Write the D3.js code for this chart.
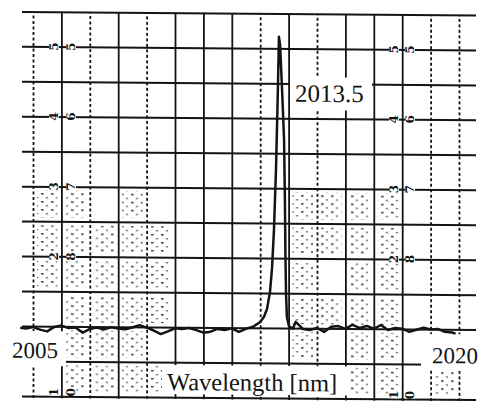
<!DOCTYPE html>
<html><head><meta charset="utf-8">
<script src="https://cdn.jsdelivr.net/npm/d3@7"></script>
<style>html,body{margin:0;padding:0;background:#fff;overflow:hidden}</style>
</head><body>
<svg id="c" width="482" height="401"></svg>
<script>
// ---------- data ----------
const xDomain = [2005, 2020];          // nm
const yDomain = [0, 11];               // grid divisions (arb. units)
const gridNm = d3.range(2005, 2021);   // one vertical line per nm
const dashedNm = [2005, 2007, 2009, 2013, 2015, 2019, 2020];
const gridDiv = d3.range(0, 12);

const baseLeftWl  = [2004.55,2004.75,2005.0,2005.25,2005.5,2005.75,2006.0,2006.25,2006.5,2006.75,2007.0,2007.25,2007.5,2007.75,2008.0,2008.25,2008.5,2008.75,2009.0,2009.25,2009.5,2009.75,2010.0,2010.25,2010.5,2010.75,2011.0,2011.25,2011.5,2011.75,2012.0,2012.25,2012.5,2012.75];
const baseLeftVal = [1.95,1.93,1.97,1.90,1.85,1.98,2.02,1.95,1.97,1.82,1.93,1.97,1.92,1.98,1.95,1.93,1.98,2.05,1.98,1.90,1.80,1.88,1.97,1.95,1.98,1.92,1.85,1.88,1.96,1.93,1.98,1.88,1.97,2.03];
const peakWl  = [2013.0,2013.13,2013.24,2013.345,2013.415,2013.486,2013.556,2013.59,2013.63,2013.66,2013.70,2013.77,2013.84,2013.87,2013.89,2013.91,2013.94,2014.01,2014.15];
const peakVal = [2.17,2.31,2.54,3.03,3.69,4.83,6.54,7.68,9.11,10.33,10.11,8.82,7.40,5.69,3.97,2.98,2.32,2.06,1.98];
const baseRightWl  = [2014.25,2014.5,2014.75,2015.0,2015.25,2015.5,2015.75,2016.0,2016.25,2016.5,2016.75,2017.0,2017.25,2017.5,2017.75,2018.0,2018.25,2018.5,2018.75,2019.0,2019.25,2019.5,2019.75,2019.88];
const baseRightVal = [2.18,1.98,1.95,2.01,1.90,2.05,2.07,1.99,2.11,2.02,2.08,2.00,2.11,1.97,2.03,2.01,1.92,1.98,2.04,1.99,2.01,1.93,1.91,1.88];

const peakLabel = "2013.5";
const xStartLabel = "2005";
const xEndLabel = "2020";
const xTitle = "Wavelength [nm]";

// chart-paper scale digits printed on every other line
const paperLines = [10, 8, 6, 4, 0];
const paperFirst = ["5", "4", "3", "2", "1"];
const paperSecond = ["5", "6", "7", "8", "0"];

// cells of the paper showing a dotted print texture [column, row]
const dottedCells = [
  [0,5],[1,5],[3,5],[9,5],[10,5],[11,5],[12,5],
  [0,4],[1,4],[2,4],[3,4],[4,4],[9,4],[10,4],[11,4],[12,4],
  [0,3],[1,3],[2,3],[3,3],[4,3],[9,3],[11,3],[12,3],
  [1,2],[2,2],[3,2],[4,2],[9,2],[10,2],[11,2],[12,2],
  [1,1],[2,1],[3,1],[9,1],[11,1],[12,1],
  [1,0],[2,0],[3,0],[4,0],[11,0],[12,0],[14,0]
];

// ---------- drawing ----------
const svg = d3.select("#c");
const ink = "#141414";
const x = d3.scaleLinear().domain(xDomain).range([33, 459]);
const y = d3.scaleLinear().domain(yDomain).range([396, 11.5]);

const defs = svg.append("defs");
const pat = defs.append("pattern").attr("id", "dots")
  .attr("patternUnits", "userSpaceOnUse").attr("width", 10).attr("height", 8);
pat.append("rect").attr("x", 1).attr("y", 1).attr("width", 2.6).attr("height", 1.6).attr("fill", "#111");
pat.append("rect").attr("x", 6).attr("y", 5).attr("width", 2).attr("height", 1.4).attr("fill", "#333");

// scanned page is slightly tilted
const g = svg.append("g").attr("transform", "matrix(1,0.008,0,1,0,-0.3)");

// dotted texture
g.append("g").selectAll("rect").data(dottedCells).join("rect")
  .attr("x", d => x(xDomain[0] + d[0]) + 4)
  .attr("y", d => y(d[1] + 1) + 4)
  .attr("width", d => x(xDomain[0] + d[0] + 1) - x(xDomain[0] + d[0]) - 8)
  .attr("height", d => y(d[1]) - y(d[1] + 1) - 8)
  .attr("fill", "url(#dots)").attr("opacity", 0.8);

// vertical grid via axis
const vAxis = g.append("g").attr("transform", "translate(0,398)")
  .call(d3.axisBottom(x).tickValues(gridNm).tickSize(-(398 - 11.5)).tickFormat(""));
vAxis.select(".domain").remove();
vAxis.selectAll(".tick line")
  .attr("stroke", ink).attr("stroke-width", 1.8)
  .attr("stroke-dasharray", d => dashedNm.includes(d) ? "3,2.5" : null);

// horizontal grid via axis
const hAxis = g.append("g").attr("transform", "translate(22,0)")
  .call(d3.axisLeft(y).tickValues(gridDiv).tickSize(-(476 - 22)).tickFormat(""));
hAxis.select(".domain").remove();
hAxis.selectAll(".tick line").attr("stroke", ink).attr("stroke-width", 2);

// white label boxes on the paper
const boxes = [
  [4, 331, 62, 35],
  [421, 331, 61, 36],
  [162, 364, 186, 29],
  [290, 75, 82, 33]
];
g.append("g").selectAll("rect").data(boxes).join("rect")
  .attr("x", d => d[0]).attr("y", d => d[1]).attr("width", d => d[2]).attr("height", d => d[3])
  .attr("fill", "#fff");

// paper scale digits
const pl = g.append("g").attr("font-family", "'DejaVu Serif', serif")
  .attr("font-weight", "bold").attr("font-size", 12).attr("fill", ink);
paperLines.forEach((ln, i) => {
  const py = ln === 0 ? y(ln) - 4 : y(ln);
  [[54, paperFirst[i]], [71, paperSecond[i]], [394, paperFirst[i]], [410, paperSecond[i]]].forEach(([px, t]) => {
    pl.append("rect").attr("x", px - 5).attr("y", py - 3.5).attr("width", 10).attr("height", 7).attr("fill", "#fff");
    pl.append("text").attr("transform", `translate(${px},${py}) rotate(-90)`)
      .attr("text-anchor", "middle").attr("dy", "0.36em")
      .text(t);
  });
});

// spectrum trace
const wl = baseLeftWl.concat(peakWl, baseRightWl);
const val = baseLeftVal.concat(peakVal, baseRightVal);
const pts = wl.map((w, i) => [w, val[i]]);
g.append("path").datum(pts)
  .attr("fill", "none").attr("stroke", ink).attr("stroke-width", 2.5)
  .attr("stroke-linejoin", "round")
  .attr("d", d3.line().x(d => x(d[0])).y(d => y(d[1])));

// texts
const tx = g.append("g").attr("font-family", "'Liberation Serif', 'Times New Roman', serif").attr("fill", ink);
tx.append("text").attr("x", 12).attr("y", 358).attr("font-size", 23).text(xStartLabel);
tx.append("text").attr("x", 432).attr("y", 360).attr("font-size", 23).text(xEndLabel);
tx.append("text").attr("x", 167).attr("y", 389).attr("font-size", 24.5).text(xTitle);
tx.append("text").attr("x", 295).attr("y", 99.6).attr("font-size", 25).text(peakLabel);
</script>
</body></html>
